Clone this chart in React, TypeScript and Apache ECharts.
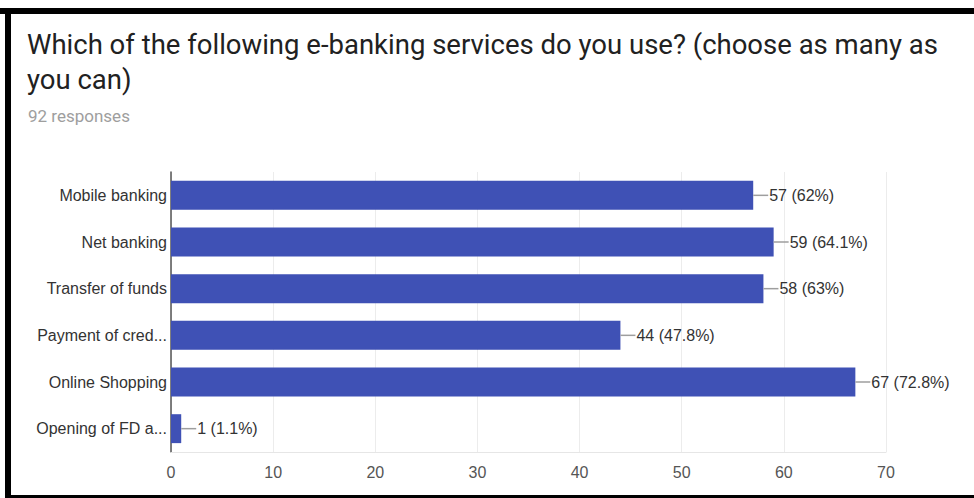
import React, { useEffect, useRef } from "react";
import * as echarts from "echarts";

const categories = [
  "Mobile banking",
  "Net banking",
  "Transfer of funds",
  "Payment of cred...",
  "Online Shopping",
  "Opening of FD a...",
];
const counts = [57, 59, 58, 44, 67, 1];
const percents = ["62%", "64.1%", "63%", "47.8%", "72.8%", "1.1%"];
const xTicks = [0, 10, 20, 30, 40, 50, 60, 70];

const titleLine1 = "Which of the following e-banking services do you use? (choose as many as";
const titleLine2 = "you can)";
const subtitle = "92 responses";

export default function App() {
  const ref = useRef<HTMLDivElement>(null);
  useEffect(() => {
    if (!ref.current) return;
    const chart = echarts.init(ref.current, undefined, { renderer: "svg" });
    const FONT = "Roboto, Arial, sans-serif";
    const AFONT = "'Liberation Sans', Arial, sans-serif";
    chart.setOption({
      animation: false,
      backgroundColor: "#ffffff",
      grid: { left: 171, right: 88, top: 172, bottom: 46, containLabel: false },
      graphic: [
        { type: "rect", shape: { x: 0, y: 8, width: 974, height: 6 }, style: { fill: "#000" } },
        { type: "rect", shape: { x: 5, y: 8, width: 6, height: 490 }, style: { fill: "#000" } },
        { type: "rect", shape: { x: 5, y: 495, width: 969, height: 3 }, style: { fill: "#000" } },
        {
          type: "text",
          left: 27,
          top: 27,
          style: {
            text: titleLine1 + "\n" + titleLine2,
            font: "27.5px " + FONT,
            fill: "#212121",
            lineHeight: 35,
          },
        },
        {
          type: "text",
          left: 28,
          top: 107,
          style: { text: subtitle, font: "17px " + FONT, fill: "#9e9e9e" },
        },
      ],
      xAxis: {
        type: "value",
        min: 0,
        max: 70,
        interval: 10,
        axisLine: { show: true, lineStyle: { color: "#e6e6e6" } },
        axisTick: { show: false },
        splitLine: { show: true, lineStyle: { color: "#ececec" } },
        axisLabel: {
          color: "#555",
          fontSize: 16,
          fontFamily: AFONT,
          margin: 12,
          formatter: (v: number) => (xTicks.includes(v) ? String(v) : ""),
        },
      },
      yAxis: {
        type: "category",
        inverse: true,
        data: categories,
        axisLine: { show: true, lineStyle: { color: "#555", width: 1.5 } },
        axisTick: { show: false },
        axisLabel: { color: "#333", fontSize: 16, fontFamily: AFONT, margin: 4 },
        splitLine: { show: false },
      },
      series: [
        {
          type: "bar",
          data: counts,
          barCategoryGap: "38%",
          itemStyle: { color: "#3f51b5" },
          label: {
            show: true,
            position: "right",
            distance: 0,
            formatter: (p: any) => `{l|}{t|${counts[p.dataIndex]} (${percents[p.dataIndex]})}`,
            rich: {
              l: { width: 15, height: 1.5, backgroundColor: "#9e9e9e" },
              t: { color: "#333", fontSize: 16, fontFamily: AFONT, padding: [0, 0, 0, 1] },
            },
          },
        },
      ],
    });
    return () => chart.dispose();
  }, []);
  return (
    <div
      ref={ref}
      style={{ position: "fixed", left: 0, top: 0, width: 974, height: 498 }}
    />
  );
}
